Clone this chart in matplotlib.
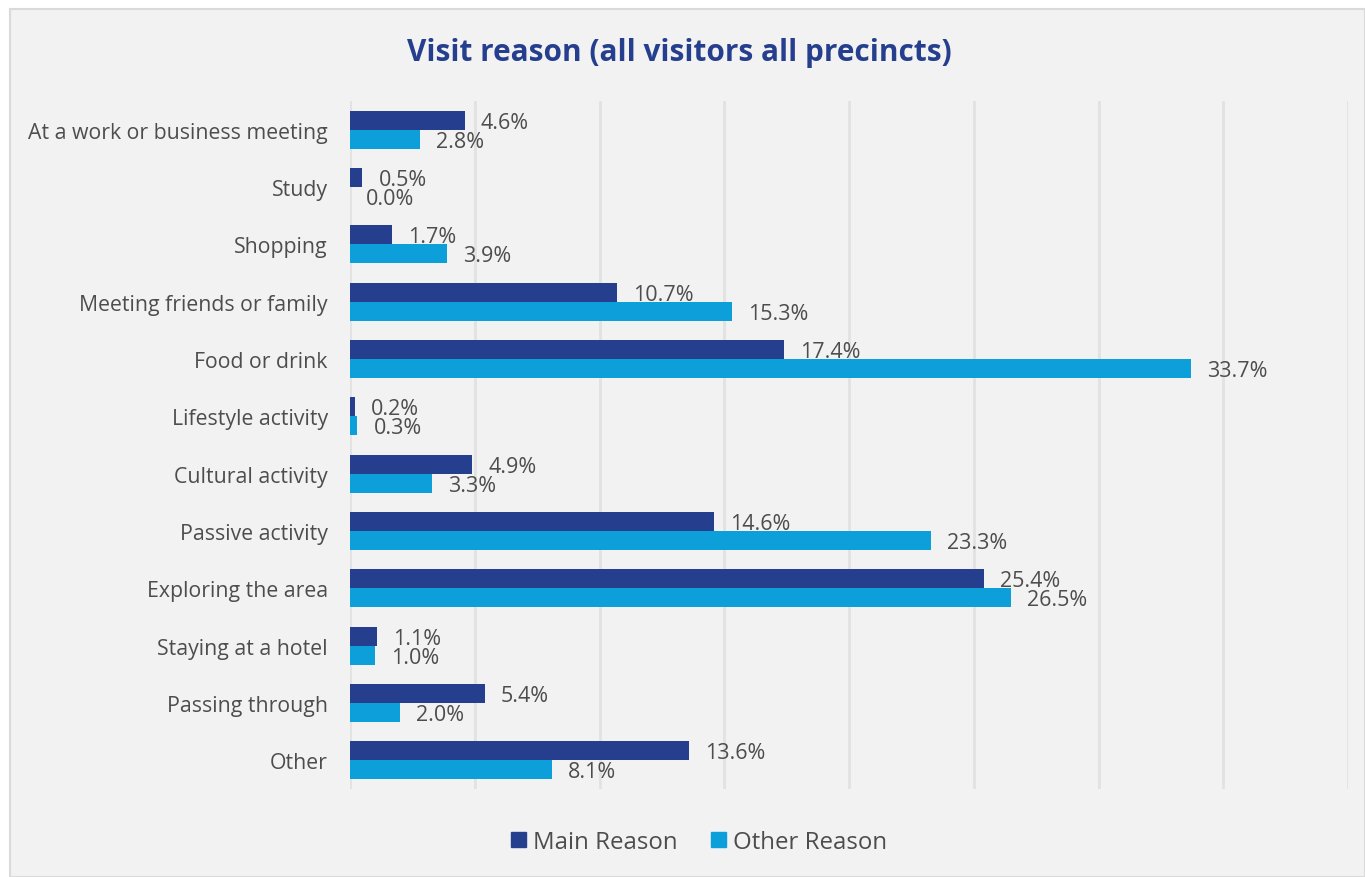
import matplotlib.pyplot as plt
from matplotlib.patches import Rectangle, Patch

plt.rcParams['font.family'] = ['Open Sans', 'DejaVu Sans']

reasons = ['At a work or business meeting', 'Study', 'Shopping',
           'Meeting friends or family', 'Food or drink', 'Lifestyle activity',
           'Cultural activity', 'Passive activity', 'Exploring the area',
           'Staying at a hotel', 'Passing through', 'Other']
main_reason = [4.6, 0.5, 1.7, 10.7, 17.4, 0.2, 4.9, 14.6, 25.4, 1.1, 5.4, 13.6]
other_reason = [2.8, 0.0, 3.9, 15.3, 33.7, 0.3, 3.3, 23.3, 26.5, 1.0, 2.0, 8.1]

dark = '#253f8e'
light = '#0c9fd9'
text_col = '#4d4d4d'
bg = '#f2f2f2'

fig = plt.figure(figsize=(13.65, 8.78), dpi=100)
fig.patch.set_facecolor('white')
# chart panel with thin border, kept behind the axes
fig.patches.append(Rectangle((10 / 1365, 0), 1 - 10 / 1365, 1 - 10 / 878,
                             transform=fig.transFigure, facecolor=bg,
                             edgecolor='#dadada', linewidth=1.5, zorder=-10))

ax = fig.add_axes([350 / 1365, 1 - 790 / 878, (1348 - 350) / 1365, (790 - 102) / 878])
ax.set_facecolor(bg)

h = 0.33
ys = list(range(len(reasons)))
ax.barh([y - h / 2 for y in ys], main_reason, height=h, color=dark, zorder=3)
ax.barh([y + h / 2 for y in ys], other_reason, height=h, color=light, zorder=3)

for y, m, o in zip(ys, main_reason, other_reason):
    ax.annotate(f'{m:.1f}%', (m, y - h / 2), xytext=(16, -2), textcoords='offset pixels',
                va='center', ha='left', fontsize=15.5, color=text_col)
    ax.annotate(f'{o:.1f}%', (o, y + h / 2), xytext=(16, -2), textcoords='offset pixels',
                va='center', ha='left', fontsize=15.5, color=text_col)

ax.set_xlim(0, 40)
ax.set_ylim(len(reasons) - 0.5, -0.5)
ax.set_xticks(range(0, 45, 5))
ax.set_xticklabels([])
ax.set_yticks(ys)
ax.set_yticklabels(reasons, fontsize=15.3, color=text_col)
ax.tick_params(axis='both', length=0, pad=16)
ax.grid(axis='x', color='#e2e2e2', linewidth=2, zorder=0)
for s in ax.spines.values():
    s.set_visible(False)

fig.text(679 / 1365, 1 - 53 / 878, 'Visit reason (all visitors all precincts)',
         ha='center', va='center', fontsize=21.4, fontweight='bold', color=dark)

handles = [Patch(color=dark, label='Main Reason'), Patch(color=light, label='Other Reason')]
fig.legend(handles=handles, loc='center', bbox_to_anchor=(699 / 1365, 1 - 843 / 878),
           ncol=2, frameon=False, fontsize=17.3, labelcolor=text_col,
           handlelength=0.62, handleheight=0.62, handletextpad=0.3, columnspacing=1.4)

fig.savefig('out.png', dpi=100, facecolor=fig.get_facecolor())
